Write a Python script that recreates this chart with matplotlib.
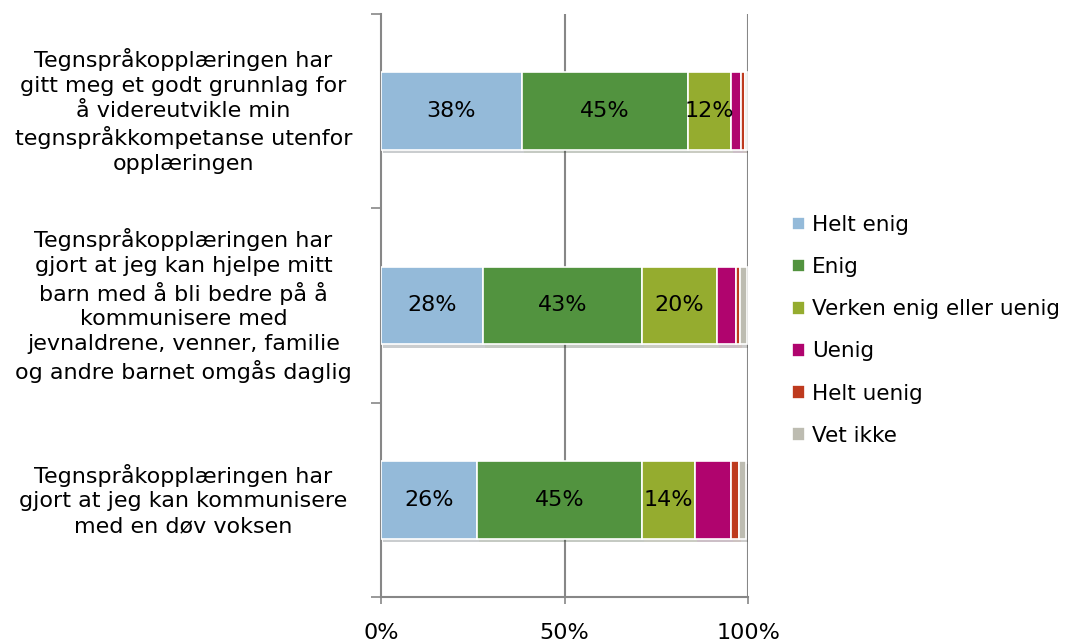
import matplotlib
matplotlib.use("Agg")
import matplotlib.pyplot as plt
import matplotlib.patheffects as pe
import matplotlib.transforms as mtransforms
import numpy as np

## data (percent of respondents)
questions = [
    "Tegnspråkopplæringen har\ngitt meg et godt grunnlag for\nå videreutvikle min\ntegnspråkkompetanse utenfor\nopplæringen",
    "Tegnspråkopplæringen har\ngjort at jeg kan hjelpe mitt\nbarn med å bli bedre på å\nkommunisere med\njevnaldrene, venner, familie\nog andre barnet omgås daglig",
    "Tegnspråkopplæringen har\ngjort at jeg kan kommunisere\nmed en døv voksen",
]
series = ["Helt enig", "Enig", "Verken enig eller uenig", "Uenig", "Helt uenig", "Vet ikke"]
helt_enig = [38.4, 27.8, 26.2]
enig = [45.2, 43.3, 45.0]
verken = [11.7, 20.4, 14.4]
uenig = [2.7, 5.1, 9.8]
helt_uenig = [1.1, 1.1, 2.2]
vet_ikke = [0.6, 1.9, 1.9]
# only the three largest answer groups get a value label
labelled = ["Helt enig", "Enig", "Verken enig eller uenig"]

colors = ["#94BAD9", "#52933F", "#95AC2F", "#B0046E", "#BE3A1E", "#BDBCB1"]
grey = "#878787"
fs = 16

plt.rcParams['font.family'] = ['DejaVu Sans']

fig = plt.figure(figsize=(10.76, 6.44), dpi=100)
ax = fig.add_axes([0.3541, 0.073, 0.3411, 0.9053])

values = [helt_enig, enig, verken, uenig, helt_uenig, vet_ikke]
y = np.arange(len(questions))
left = np.zeros(len(questions))
shadow = [pe.SimplePatchShadow(offset=(1.5, -2.5), alpha=0.25), pe.Normal()]
for name, vals, col in zip(series, values, colors):
    bars = ax.barh(y, vals, left=left, height=0.4, color=col, edgecolor="white",
                   linewidth=1.2, label=name, zorder=3)
    for b in bars:
        b.set_path_effects(shadow)
    if name in labelled:
        for yi, l, v in zip(y, left, vals):
            ax.text(l + v / 2, yi, "%d%%" % round(v), ha="center", va="center",
                    fontsize=fs, color="black", zorder=4)
    left = left + np.array(vals)

ax.set_xlim(0, 100)
ax.set_ylim(len(questions) - 0.5, -0.5)

# gridlines at 50 and 100
for xv in [50, 100]:
    ax.axvline(xv, color=grey, linewidth=1.5, zorder=1)

ax.set_xticks([0, 50, 100])
ax.set_xticklabels(["0%", "50%", "100%"], fontsize=fs)
ax.tick_params(axis="x", direction="out", length=5, width=1.2, color=grey, pad=14)
ax.set_yticks(np.arange(len(questions) + 1) - 0.5)
ax.set_yticklabels([])
ax.tick_params(axis="y", direction="out", length=7, width=1.2, color=grey)

for s in ["top", "right"]:
    ax.spines[s].set_visible(False)
for s in ["left", "bottom"]:
    ax.spines[s].set_color(grey)
    ax.spines[s].set_linewidth(1.5)

# category labels, centred left of the axis
trans = mtransforms.blended_transform_factory(fig.transFigure, ax.transData)
for yi, q in zip(y, questions):
    ax.text(0.1705, yi, q, transform=trans, ha="center", va="center",
            multialignment="center", fontsize=fs, linespacing=1.3)

leg = fig.legend(loc="center left", bbox_to_anchor=(0.7265, 0.487), frameon=False,
                 fontsize=15.5, handlelength=0.6, handleheight=0.6, handletextpad=0.3,
                 labelspacing=1.03, borderpad=0)
for h in leg.legend_handles:
    h.set_path_effects([])

fig.savefig("out.png", dpi=100)
